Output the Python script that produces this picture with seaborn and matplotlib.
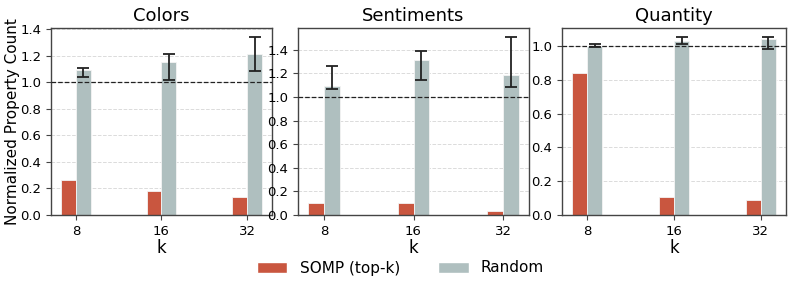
import numpy as np
import pandas as pd
import seaborn as sns
import matplotlib.pyplot as plt
from matplotlib.patches import Patch
from matplotlib.ticker import MultipleLocator

k_labels = ["8", "16", "32"]
methods = ["SOMP (top-k)", "Random"]
panels = ["Colors", "Sentiments", "Quantity"]

somp_colors = [0.265, 0.178, 0.137]
rand_colors = [1.093, 1.148, 1.208]
rand_colors_lo = [1.035, 1.015, 1.080]
rand_colors_hi = [1.108, 1.210, 1.340]

somp_sent = [0.099, 0.099, 0.031]
rand_sent = [1.096, 1.316, 1.183]
rand_sent_lo = [1.068, 1.141, 1.085]
rand_sent_hi = [1.260, 1.392, 1.510]

somp_qty = [0.843, 0.104, 0.087]
rand_qty = [1.004, 1.032, 1.041]
rand_qty_lo = [0.998, 1.014, 0.986]
rand_qty_hi = [1.012, 1.053, 1.055]

panel_data = {
    "Colors": (somp_colors, rand_colors, rand_colors_lo, rand_colors_hi),
    "Sentiments": (somp_sent, rand_sent, rand_sent_lo, rand_sent_hi),
    "Quantity": (somp_qty, rand_qty, rand_qty_lo, rand_qty_hi),
}

palette = {"SOMP (top-k)": "#c9563f", "Random": "#afbfbf"}

sns.set_style("ticks", {"text.color": "black", "axes.labelcolor": "black",
                        "xtick.color": "black", "ytick.color": "black"})
plt.rcParams["font.family"] = ["DejaVu Sans"]

fig = plt.figure(figsize=(7.93, 2.9), dpi=100)
W, H = 793, 290
boxes = [(51, 272), (298, 529), (562, 786)]
top, bottom = 28, 215

for i, name in enumerate(panels):
    l, r = boxes[i]
    ax = fig.add_axes([l / W, (H - bottom) / H, (r - l) / W, (bottom - top) / H])
    somp, rand, lo, hi = panel_data[name]
    df = pd.DataFrame({
        "k": k_labels * 2,
        "method": [methods[0]] * 3 + [methods[1]] * 3,
        "value": list(somp) + list(rand),
    })
    sns.barplot(data=df, x="k", y="value", hue="method", hue_order=methods,
                palette=palette, saturation=1, width=0.35, errorbar=None,
                legend=False, edgecolor="#f4f4f4", linewidth=0.6, ax=ax)
    # error bars on the Random bars
    xs = [p.get_x() + p.get_width() / 2 for p in ax.containers[1]]
    rand = np.array(rand)
    yerr = [rand - np.array(lo), np.array(hi) - rand]
    ax.errorbar(xs, rand, yerr=yerr, fmt="none", ecolor="#222222",
                elinewidth=1.3, capsize=4.5, capthick=1.3, zorder=5)
    ax.axhline(1.0, color="#222222", linestyle="--", linewidth=0.9, zorder=4)
    ax.set_xlim(-0.29, 2.29)
    ax.autoscale(axis="y")
    ax.yaxis.set_major_locator(MultipleLocator(0.2))
    ax.yaxis.grid(True, linestyle="--", color="#cccccc", alpha=0.7, linewidth=0.7)
    ax.set_axisbelow(True)
    for s in ax.spines.values():
        s.set_visible(True)
        s.set_color("#444444")
        s.set_linewidth(1.0)
    ax.tick_params(labelsize=9.5, length=3.5, color="#444444")
    ax.set_title(name, fontsize=13, pad=5)
    ax.set_xlabel("k", fontsize=12, labelpad=1)
    if i == 0:
        ax.set_ylabel("Normalized Property Count", fontsize=11)
        ax.yaxis.set_label_coords(-0.14, 0.5)
    else:
        ax.set_ylabel("")

handles = [Patch(facecolor=palette[m], edgecolor="white", label=m) for m in methods]
fig.legend(handles=handles, loc="center", bbox_to_anchor=(0.505, 1 - 268 / H),
           ncol=2, frameon=False, fontsize=11, columnspacing=2.5)

plt.savefig("out.png", dpi=100)
plt.close()
